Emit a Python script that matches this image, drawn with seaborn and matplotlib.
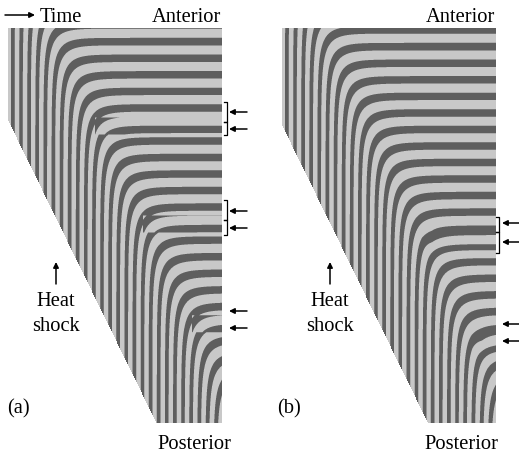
import numpy as np
import matplotlib
matplotlib.use("Agg")
import matplotlib.pyplot as plt
import seaborn as sns
from matplotlib.colors import LinearSegmentedColormap

# canvas in pixels
W, H = 519, 454

# clock-and-wavefront parameters (in pixels)
period = 8.1          # clock period along the time axis
speed = 2.04          # posterior growth, rows per time step
front_dist = 171      # distance behind the tail where the clock stops
front_width = 20      # width of the slowing zone
dark_frac = 0.45      # fraction of a cycle drawn dark
first_stripe = 5      # time of the first dark stripe
n_time, n_rows = 214, 395
sub = 4               # supersampling

# panel (a): three sharp heat shocks, panel (b): two mild ones
tail_a, tail_b = 92, 97
shock_t_a = [87, 135, 184]
shock_dphi_a = [-0.6 * np.pi, -0.6 * np.pi, -0.6 * np.pi]
band_a = (163, 180)
shock_t_b = [140, 190]
shock_dphi_b = [-0.4 * np.pi, -0.4 * np.pi]
band_b = (160, 182)

# annotation marks
arrows_a = [112, 129, 211, 228, 311, 328]
brackets_a = [(102, 122), (122, 135), (200, 220), (220, 235)]
arrows_b = [223, 242, 324, 341]
brackets_b = [(217, 232), (232, 253)]

light, dark = "#c8c8c8", "#5e5e5e"


def clock_field(tail0, shock_t, shock_dphi, band, soft):
    t = (np.arange(n_time * sub) + 0.5) / sub
    y = (np.arange(n_rows * sub) + 0.5) / sub
    dist = tail0 + speed * t[None, :] - y[:, None]
    rate = 1 / (1 + np.exp((dist - front_dist) / front_width))
    phase = np.cumsum(rate, axis=1) / sub * 2 * np.pi / period
    phase -= 2 * np.pi * first_stripe / period
    for ts, dphi in zip(shock_t, shock_dphi):
        d = tail0 + speed * ts - y
        if soft:
            # smooth in space and ramped in time: no visible seam
            mid, half = (band[0] + band[1]) / 2, (band[1] - band[0]) / 2
            wrow = np.exp(-((d - mid) / half) ** 2)
            wt = np.clip((t - ts) / 10, 0, 1)
            phase += dphi * wrow[:, None] * wt[None, :]
        else:
            rows = (d > band[0]) & (d < band[1])
            phase[np.ix_(rows, t >= ts)] += dphi
    on = (np.cos(phase) > np.cos(np.pi * dark_frac)).astype(float)
    on = on.reshape(n_rows, sub, n_time, sub).mean(axis=(1, 3))
    alive = (dist >= 0).astype(float).reshape(n_rows, sub, n_time, sub).mean(axis=(1, 3))
    return on, alive < 0.5


def px_axes(fig, x0, y0, x1, y1):
    return fig.add_axes([x0 / W, 1 - y1 / H, (x1 - x0) / W, (y1 - y0) / H])


fig = plt.figure(figsize=(W / 100, H / 100), dpi=100)
cmap = LinearSegmentedColormap.from_list("stripes", [light, dark])

panels = [(8, tail_a, shock_t_a, shock_dphi_a, band_a, False),
          (282, tail_b, shock_t_b, shock_dphi_b, band_b, True)]
for (x0, tail0, st, sd, band, soft) in panels:
    field, mask = clock_field(tail0, st, sd, band, soft)
    ax = px_axes(fig, x0, 28, x0 + n_time, 28 + n_rows)
    sns.heatmap(field, mask=mask, cmap=cmap, vmin=0, vmax=1, cbar=False,
                xticklabels=False, yticklabels=False, ax=ax)

# overlay for labels, arrows and brackets
ov = fig.add_axes([0, 0, 1, 1], facecolor="none")
ov.set_xlim(0, W)
ov.set_ylim(H, 0)
ov.axis("off")

txt = dict(family="Liberation Serif", fontsize=14.8, color="black")
arr = dict(arrowstyle="-|>", color="black", lw=1.1, mutation_scale=8,
           shrinkA=0, shrinkB=0)

ov.annotate("", xy=(35, 15), xytext=(5, 15), arrowprops=arr)
ov.text(40, 22, "Time", ha="left", va="baseline", **txt)
ov.text(221, 22, "Anterior", ha="right", va="baseline", **txt)
ov.text(495, 22, "Anterior", ha="right", va="baseline", **txt)
ov.text(194, 449, "Posterior", ha="center", va="baseline", **txt)
ov.text(461, 449, "Posterior", ha="center", va="baseline", **txt)

for cx, lab, lx in [(56, "(a)", 7), (330, "(b)", 277)]:
    ov.annotate("", xy=(cx, 262), xytext=(cx, 284), arrowprops=arr)
    ov.text(cx, 306, "Heat", ha="center", va="baseline", **txt)
    ov.text(cx, 331, "shock", ha="center", va="baseline", **txt)
    ov.text(lx, 413, lab, ha="left", va="baseline", **txt)

for ys, brs, xb, x_head, x_tail in [(arrows_a, brackets_a, 227, 229, 247),
                                    (arrows_b, brackets_b, 499, 502, 522)]:
    for yy in ys:
        ov.annotate("", xy=(x_head, yy), xytext=(x_tail, yy), arrowprops=arr)
    for (y0, y1) in brs:
        ov.plot([xb - 3, xb, xb, xb - 3], [y0, y0, y1, y1], color="black", lw=0.9)

fig.savefig("out.png", dpi=100)
